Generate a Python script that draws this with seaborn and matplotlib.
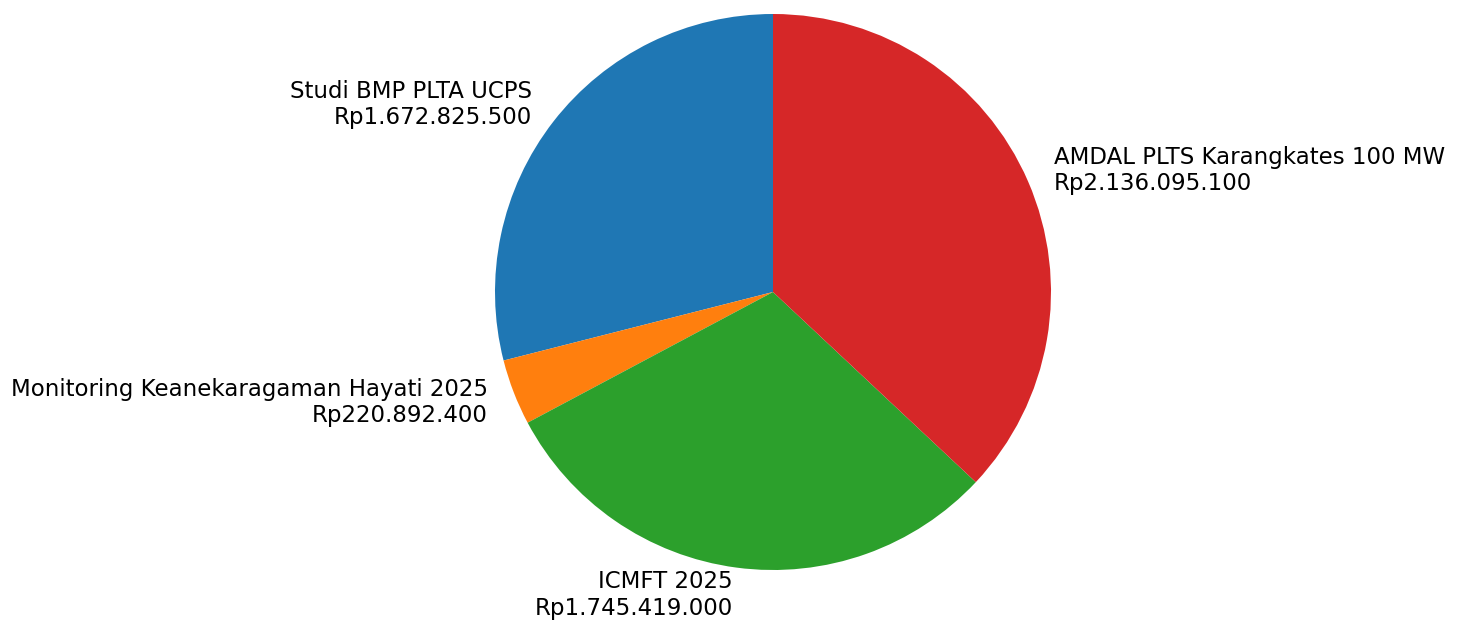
import matplotlib
matplotlib.use('Agg')
import matplotlib.pyplot as plt
import seaborn as sns

projects = ['Studi BMP PLTA UCPS', 'Monitoring Keanekaragaman Hayati 2025',
            'ICMFT 2025', 'AMDAL PLTS Karangkates 100 MW']
costs = [1672825500, 220892400, 1745419000, 2136095100]


def rupiah(v):
	return 'Rp' + f'{v:,}'.replace(',', '.')


sns.set_style('white')
colors = sns.color_palette('tab10', 4)
labels = [p + '\n' + rupiah(c) for p, c in zip(projects, costs)]

fig = plt.figure(figsize=(14.62, 6.2), dpi=100)
ax = fig.add_axes([0, 0, 1, 1])
ax.pie(costs, labels=labels, colors=colors, startangle=90,
       wedgeprops={'linewidth': 0},
       textprops={'fontsize': 16.5, 'color': 'black'})
# place the pie: centre at (773, 292) px, radius 278 px
r = 278.0
ax.set_xlim(-773 / r, (1462 - 773) / r)
ax.set_ylim(-(620 - 292) / r, 292 / r)
ax.set_aspect('auto')
ax.axis('off')

fig.savefig('out.png', dpi=100)
plt.close(fig)
